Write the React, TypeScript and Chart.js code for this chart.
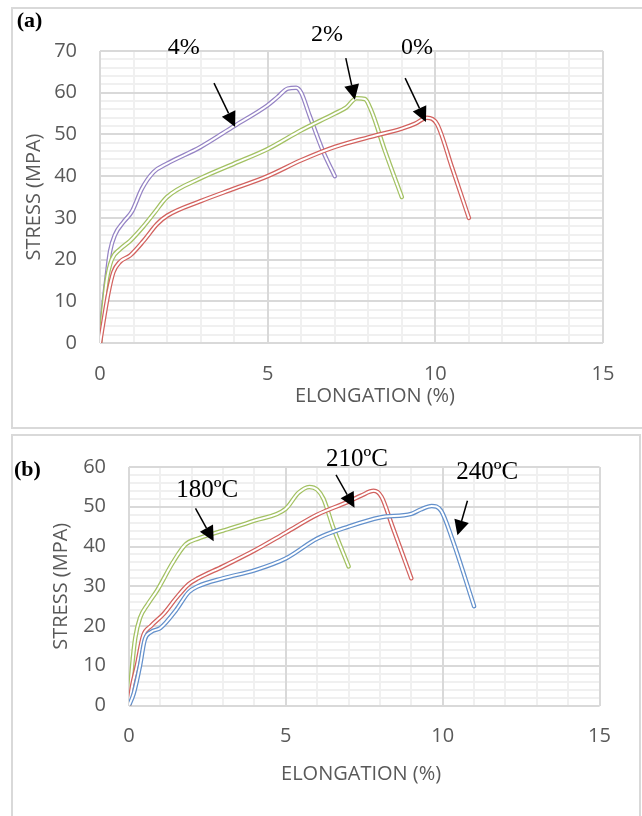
import React, { useEffect, useRef } from 'react';
import { Chart, registerables } from 'chart.js';

Chart.register(...registerables);

// ---------- text ----------
const xTitle = 'ELONGATION (%)';
const yTitle = 'STRESS (MPA)';
const xMajorTicks = [0, 5, 10, 15];
const yMajorTicksA = [0, 10, 20, 30, 40, 50, 60, 70];
const yMajorTicksB = [0, 10, 20, 30, 40, 50, 60];

// ---------- panel (a) series: [elongation %, stress MPa] ----------
const seriesLabelsA = ['4%', '2%', '0%'];
const stress4pct: [number, number][] = [
  [0, 0], [0.1, 9], [0.2, 16], [0.3, 22], [0.45, 26], [0.7, 29], [0.95, 31.5], [1.25, 37],
  [1.6, 41], [2, 43], [3, 47], [4, 52], [5, 57], [5.3, 59], [5.6, 61], [5.85, 61.2],
  [6.0, 60], [6.25, 54.5], [6.65, 46], [7, 40],
];
const stress2pct: [number, number][] = [
  [0, 0], [0.1, 8], [0.2, 15], [0.35, 20], [0.6, 22.5], [0.9, 24.5], [1.3, 28], [1.6, 31],
  [2, 35], [3, 39.5], [4, 43], [5, 46.5], [6, 51], [7, 55], [7.35, 56.5], [7.65, 58.7],
  [7.9, 58.5], [8.1, 55.5], [8.5, 46], [9, 35],
];
const stress0pct: [number, number][] = [
  [0, 0], [0.1, 5], [0.25, 12], [0.4, 17], [0.6, 19.5], [0.9, 21], [1.3, 24.5], [1.7, 28.5],
  [2, 30.5], [3, 34], [4, 37], [5, 40], [6, 43.8], [7, 47], [8, 49.3], [9, 51.4],
  [9.4, 52.6], [9.75, 54], [10.05, 52.5], [10.5, 42], [11, 30],
];

// ---------- panel (b) series ----------
const seriesLabelsB = ['180ºC', '210ºC', '240ºC'];
const stress180C: [number, number][] = [
  [0, 0], [0.1, 10], [0.2, 17], [0.35, 22], [0.6, 25.5], [0.9, 29], [1.4, 36], [1.8, 40.5],
  [2.2, 42], [3, 44], [4, 46.5], [5, 49.5], [5.4, 53.5], [5.75, 55], [6.0, 54.3], [6.2, 52],
  [6.5, 45], [7, 35],
];
const stress210C: [number, number][] = [
  [0, 0], [0.1, 5], [0.25, 10], [0.45, 17.5], [0.7, 20], [1.1, 23], [1.5, 27], [1.9, 30.5],
  [2.2, 32], [3, 35], [4, 39], [5, 43.5], [6, 48], [7, 51.3], [7.4, 52.8], [7.8, 54],
  [8.05, 52.5], [8.4, 45], [9, 32],
];
const stress240C: [number, number][] = [
  [0, 0], [0.15, 3], [0.35, 10], [0.5, 16.5], [0.7, 18.5], [1, 19.5], [1.5, 24], [1.9, 28.5],
  [2.2, 30], [3, 32], [4, 34], [5, 37], [6, 42], [7, 45], [8, 47.3], [9, 48.2],
  [9.3, 49.3], [9.65, 50.2], [9.95, 49], [10.3, 42], [11, 25],
];

// ---------- annotations (data units): label anchor, arrow tail, arrow tip ----------
type Ann = { text: string; tx: number; ty: number; fx: number; fy: number; hx: number; hy: number };
const annotationsA: Ann[] = [
  { text: seriesLabelsA[0], tx: 2.5, ty: 70.7, fx: 3.4, fy: 62.3, hx: 4.03, hy: 51.8 },
  { text: seriesLabelsA[1], tx: 6.77, ty: 73.8, fx: 7.33, fy: 68.3, hx: 7.6, hy: 58.3 },
  { text: seriesLabelsA[2], tx: 9.45, ty: 70.9, fx: 9.1, fy: 63.5, hx: 9.72, hy: 53.0 },
];
const annotationsB: Ann[] = [
  { text: seriesLabelsB[0], tx: 2.49, ty: 54.2, fx: 2.12, fy: 49.6, hx: 2.7, hy: 41.3 },
  { text: seriesLabelsB[1], tx: 7.27, ty: 61.8, fx: 6.6, fy: 58.0, hx: 7.19, hy: 49.75 },
  { text: seriesLabelsB[2], tx: 11.42, ty: 58.6, fx: 10.79, fy: 51.5, hx: 10.47, hy: 42.8 },
];

const colorsA = ['#9583c4', '#a3c163', '#d2625f'];
const colorsB = ['#a3c163', '#d2625f', '#6390cb'];

type Spec = {
  series: [number, number][][];
  colors: string[];
  yMax: number;
  yTicks: number[];
  canvasTop: number;
  canvasHeight: number;
  area: { left: number; top: number; right: number; bottom: number };
  xTitleAt: number;
  xTitleDy: number;
  yTitleDx: number;
  tag: { text: string; x: number; y: number };
  annotations: Ann[];
  annFont: number;
};

const specA: Spec = {
  series: [stress4pct, stress2pct, stress0pct],
  colors: colorsA,
  yMax: 70,
  yTicks: yMajorTicksA,
  canvasTop: 0,
  canvasHeight: 430,
  area: { left: 100, top: 51, right: 39, bottom: 87 },
  xTitleAt: 8.2,
  xTitleDy: 53,
  yTitleDx: 66,
  tag: { text: '(a)', x: -2.1, y: 77.2 },
  annotations: annotationsA,
  annFont: 24,
};

const specB: Spec = {
  series: [stress180C, stress210C, stress240C],
  colors: colorsB,
  yMax: 60,
  yTicks: yMajorTicksB,
  canvasTop: 432,
  canvasHeight: 384,
  area: { left: 129, top: 32, right: 42.5, bottom: 110.5 },
  xTitleAt: 7.4,
  xTitleDy: 68.5,
  yTitleDx: 68,
  tag: { text: '(b)', x: -3.24, y: 59.1 },
  annotations: annotationsB,
  annFont: 25,
};

const TICK_FONT = { family: "'Open Sans', sans-serif", size: 20 };
const TICK_COLOR = '#595959';

function decoPlugin(spec: Spec) {
  return {
    id: 'deco',
    afterDraw(chart: any) {
      const { ctx, chartArea } = chart;
      const xs = chart.scales.x;
      const ys = chart.scales.y;
      const px = (v: number) => xs.getPixelForValue(v);
      const py = (v: number) => ys.getPixelForValue(v);
      ctx.save();
      ctx.textAlign = 'center';
      ctx.textBaseline = 'middle';
      // axis titles
      ctx.fillStyle = TICK_COLOR;
      ctx.font = "20px 'Open Sans', sans-serif";
      ctx.fillText(xTitle, px(spec.xTitleAt), chartArea.bottom + spec.xTitleDy);
      ctx.save();
      ctx.translate(chartArea.left - spec.yTitleDx, (chartArea.top + chartArea.bottom) / 2);
      ctx.rotate(-Math.PI / 2);
      ctx.fillText(yTitle, 0, 0);
      ctx.restore();
      // panel tag
      ctx.fillStyle = '#000';
      ctx.font = "bold 22px 'Liberation Serif', serif";
      ctx.fillText(spec.tag.text, px(spec.tag.x), py(spec.tag.y));
      // annotations
      ctx.font = `${spec.annFont}px 'Liberation Serif', serif`;
      ctx.strokeStyle = '#000';
      ctx.lineWidth = 1.5;
      spec.annotations.forEach((a) => {
        ctx.fillText(a.text, px(a.tx), py(a.ty));
        const x1 = px(a.fx), y1 = py(a.fy), x2 = px(a.hx), y2 = py(a.hy);
        const ang = Math.atan2(y2 - y1, x2 - x1);
        const c = Math.cos(ang), s = Math.sin(ang);
        const L = 15, W = 7.5;
        const bx = x2 - L * c, by = y2 - L * s;
        ctx.beginPath();
        ctx.moveTo(x1, y1);
        ctx.lineTo(bx, by);
        ctx.stroke();
        ctx.beginPath();
        ctx.moveTo(x2, y2);
        ctx.lineTo(bx + W * s, by - W * c);
        ctx.lineTo(bx - W * s, by + W * c);
        ctx.closePath();
        ctx.fill();
      });
      ctx.restore();
    },
  };
}

function buildConfig(spec: Spec): any {
  const datasets: any[] = [];
  spec.series.forEach((s, i) => {
    const data = s.map(([x, y]) => ({ x, y }));
    const common = {
      data,
      pointRadius: 0,
      fill: false,
      tension: 0.4,
      cubicInterpolationMode: 'monotone',
      borderJoinStyle: 'round',
      borderCapStyle: 'round',
      xAxisID: 'x',
      yAxisID: 'y',
    };
    datasets.push({ ...common, borderColor: spec.colors[i], borderWidth: 4.5, order: 100 - 2 * i });
    datasets.push({ ...common, borderColor: '#ffffff', borderWidth: 2, order: 99 - 2 * i });
  });

  return {
    type: 'line',
    data: { datasets },
    options: {
      animation: false,
      responsive: false,
      devicePixelRatio: 1,
      layout: { padding: { left: 0, top: spec.area.top, right: spec.area.right, bottom: 0 } },
      plugins: { legend: { display: false }, tooltip: { enabled: false } },
      scales: {
        xm: {
          type: 'linear', axis: 'x', position: 'bottom', min: 0, max: 15,
          ticks: { stepSize: 1, display: false, autoSkip: false },
          grid: { color: '#f0f0f0', lineWidth: 2, drawTicks: false, z: -2 },
          border: { display: false },
          afterFit: (sc: any) => { sc.height = 0; },
        },
        ym: {
          type: 'linear', axis: 'y', position: 'left', min: 0, max: spec.yMax,
          ticks: { stepSize: 2, display: false, autoSkip: false },
          grid: { color: '#f0f0f0', lineWidth: 2, drawTicks: false, z: -2 },
          border: { display: false },
          afterFit: (sc: any) => { sc.width = 0; },
        },
        x: {
          type: 'linear', position: 'bottom', min: 0, max: 15,
          afterBuildTicks: (sc: any) => { sc.ticks = xMajorTicks.map((v) => ({ value: v })); },
          ticks: { autoSkip: false, maxRotation: 0, padding: 19, color: TICK_COLOR, font: TICK_FONT },
          grid: { color: '#d9d9d9', lineWidth: 2, drawTicks: false, z: -1 },
          border: { display: false },
          afterFit: (sc: any) => { sc.height = spec.area.bottom; },
        },
        y: {
          type: 'linear', position: 'left', min: 0, max: spec.yMax,
          afterBuildTicks: (sc: any) => { sc.ticks = spec.yTicks.map((v) => ({ value: v })); },
          ticks: { autoSkip: false, padding: 23, color: TICK_COLOR, font: TICK_FONT },
          grid: { color: '#d9d9d9', lineWidth: 2, drawTicks: false, z: -1 },
          border: { display: false },
          afterFit: (sc: any) => { sc.width = spec.area.left; },
        },
      },
    },
    plugins: [decoPlugin(spec)],
  };
}

function Panel({ spec }: { spec: Spec }) {
  const ref = useRef<HTMLCanvasElement | null>(null);
  useEffect(() => {
    if (!ref.current) return;
    const chart = new Chart(ref.current, buildConfig(spec));
    return () => chart.destroy();
  }, [spec]);
  return (
    <canvas
      ref={ref}
      width={642}
      height={spec.canvasHeight}
      style={{ position: 'absolute', left: 0, top: spec.canvasTop, width: 642, height: spec.canvasHeight }}
    />
  );
}

export default function App() {
  return (
    <div style={{ position: 'absolute', left: 0, top: 0, width: 642, height: 816, overflow: 'hidden', background: '#fff' }}>
      <div style={{ position: 'absolute', left: 11, top: 7, width: 660, height: 422, border: '2px solid #d9d9d9', boxSizing: 'border-box' }} />
      <div style={{ position: 'absolute', left: 11, top: 434, width: 630, height: 420, border: '2px solid #d9d9d9', boxSizing: 'border-box' }} />
      <Panel spec={specA} />
      <Panel spec={specB} />
    </div>
  );
}
